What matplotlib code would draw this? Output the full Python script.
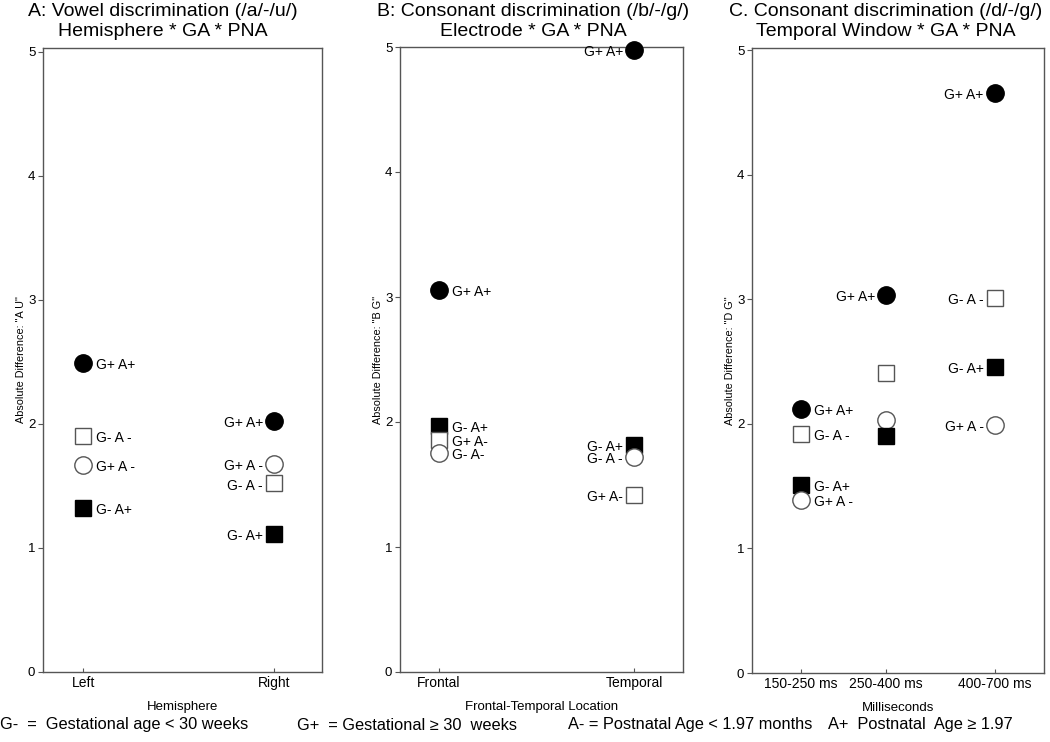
import matplotlib
matplotlib.use("Agg")
import matplotlib.pyplot as plt

plt.rcParams['font.family'] = ['Liberation Sans', 'DejaVu Sans']

# panel A: vowel discrimination, hemisphere
a_cats = ["Left", "Right"]
a_idx = [0, 0, 0, 0, 1, 1, 1, 1]
a_vals = [2.49, 1.90, 1.67, 1.32, 2.02, 1.68, 1.52, 1.11]
a_kind = ["fc", "os", "oc", "fs", "fc", "oc", "os", "fs"]
a_labels = ["G+ A+", "G- A -", "G+ A -", "G- A+", "G+ A+", "G+ A -", "G- A -", "G- A+"]

# panel B: consonant /b/-/g/, electrode
b_cats = ["Frontal", "Temporal"]
b_idx = [0, 0, 0, 0, 1, 1, 1, 1]
b_vals = [3.06, 1.97, 1.86, 1.75, 4.98, 1.82, 1.72, 1.42]
b_kind = ["fc", "fs", "os", "oc", "fc", "fs", "oc", "os"]
b_labels = ["G+ A+", "G- A+", "G+ A-", "G- A-", "G+ A+", "G- A+", "G- A -", "G+ A-"]

# panel C: consonant /d/-/g/, temporal window
c_cats = ["150-250 ms", "250-400 ms", "400-700 ms"]
c_idx = [0, 0, 0, 0, 1, 1, 1, 1, 2, 2, 2, 2]
c_vals = [2.12, 1.92, 1.51, 1.39, 3.04, 2.41, 2.03, 1.90, 4.66, 3.01, 2.46, 1.99]
c_kind = ["fc", "os", "fs", "oc", "fc", "os", "oc", "fs", "fc", "os", "fs", "oc"]
c_labels = ["G+ A+", "G- A -", "G- A+", "G+ A -", "G+ A+", "", "", "",
            "G+ A+", "G- A -", "G- A+", "G+ A -"]

styles = {
    "fc": dict(marker="o", ms=12.5, mfc="black", mec="black"),
    "oc": dict(marker="o", ms=12.5, mfc="white", mec="#555555"),
    "fs": dict(marker="s", ms=11, mfc="black", mec="black"),
    "os": dict(marker="s", ms=11, mfc="white", mec="#555555"),
}

W, H = 1050, 742
fig = plt.figure(figsize=(W / 100, H / 100), dpi=100)


def box(l, r, t, b):
    return [l / W, (H - b) / H, (r - l) / W, (b - t) / H]


def panel(rect, cats, xpos, xlim, idx, vals, kind, labels, sides, ylabel, xlabel, ytop):
    ax = fig.add_axes(rect)
    for i, v, k, lab in zip(idx, vals, kind, labels):
        x = xpos[i]
        ax.plot([x], [v], linestyle="none", mew=1, clip_on=False, zorder=3, **styles[k])
        if lab:
            if sides[i] == "r":
                ax.annotate(lab, (x, v), xytext=(9, -1.5), textcoords="offset points",
                            ha="left", va="center", fontsize=10)
            else:
                ax.annotate(lab, (x, v), xytext=(-8, -1.5), textcoords="offset points",
                            ha="right", va="center", fontsize=10)
    ax.set_xlim(*xlim)
    ax.set_ylim(0, ytop)
    ax.set_yticks([0, 1, 2, 3, 4, 5])
    ax.set_xticks(xpos)
    ax.set_xticklabels(cats, fontsize=10)
    ax.tick_params(axis="y", direction="out", length=3.5, labelsize=9.5, color="#555555", pad=2)
    ax.tick_params(axis="x", direction="in", length=3, color="#555555", pad=3)
    for s in ax.spines.values():
        s.set_color("#555555")
        s.set_linewidth(1)
    ax.set_ylabel(ylabel, fontsize=7.8, labelpad=1)
    ax.set_xlabel(xlabel, fontsize=9.5, labelpad=8)
    return ax


panel(box(43, 322, 48, 672), a_cats, [0, 1], (-0.21, 1.25), a_idx, a_vals, a_kind, a_labels,
      ["r", "l"], 'Absolute Difference: "A U"', "Hemisphere", 5.03)
panel(box(400, 683, 47, 672), b_cats, [0, 1], (-0.2, 1.25), b_idx, b_vals, b_kind, b_labels,
      ["r", "l"], 'Absolute Difference: "B G"', "Frontal-Temporal Location", 5.0)
panel(box(752, 1044, 48, 673), c_cats, [0, 1, 2.28], (-0.58, 2.86), c_idx, c_vals, c_kind, c_labels,
      ["r", "l", "l"], 'Absolute Difference: "D G"', "Milliseconds", 5.02)

titles = [
    (163, "A: Vowel discrimination (/a/-/u/)\nHemisphere * GA * PNA"),
    (533, "B: Consonant discrimination (/b/-/g/)\nElectrode * GA * PNA"),
    (886, "C. Consonant discrimination (/d/-/g/)\nTemporal Window * GA * PNA"),
]
for x, t in titles:
    fig.text(x / W, 1 - 3 / H, t, ha="center", va="top", fontsize=14, linespacing=1.2)

notes = [
    (0, "G-  =  Gestational age < 30 weeks"),
    (297, "G+  = Gestational \u2265 30  weeks"),
    (568, "A- = Postnatal Age < 1.97 months"),
    (828, "A+  Postnatal  Age \u2265 1.97"),
]
for x, t in notes:
    fig.text(x / W, 1 - 725 / H, t, ha="left", va="center", fontsize=11.8)

fig.savefig("out.png", dpi=100)
